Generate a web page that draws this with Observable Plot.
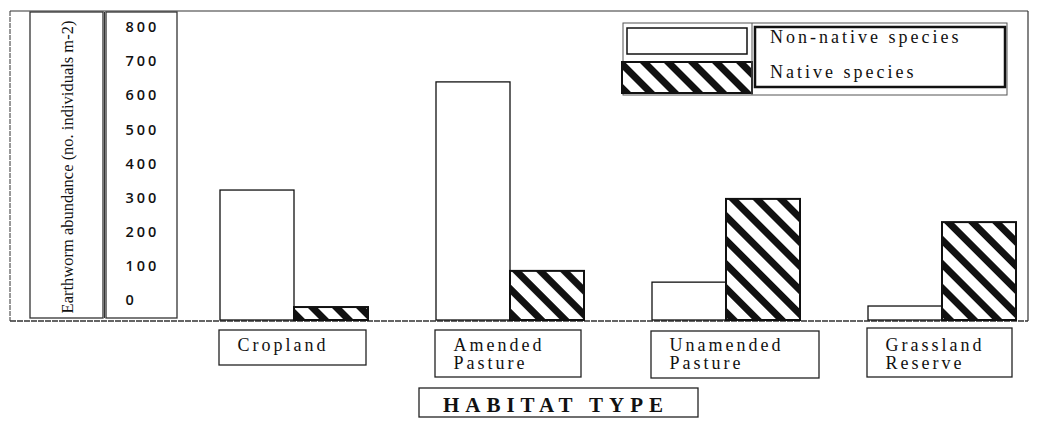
<!DOCTYPE html>
<html>
<head>
<meta charset="utf-8">
<script src="https://cdn.jsdelivr.net/npm/d3@7"></script>
<script src="https://cdn.jsdelivr.net/npm/@observablehq/plot@0.6"></script>
<style>
  body { margin: 0; background: #fff; }
  #chart svg { display: block; }
</style>
</head>
<body>
<div id="chart"></div>
<script>
// ---- data ----
const habitats = ["Cropland", "Amended Pasture", "Unamended Pasture", "Grassland Reserve"];
const habitatLabels = ["Cropland", "Amended\nPasture", "Unamended\nPasture", "Grassland\nReserve"];
const seriesNames = ["Non-native species", "Native species"];
const nonNative = [381, 698, 111, 41];
const native = [38, 144, 355, 287];
const yTicks = [0, 100, 200, 300, 400, 500, 600, 700, 800];
const yTitle = "Earthworm abundance (no. individuals m-2)";
const xTitle = "HABITAT TYPE";

const rows = habitats.flatMap((h, i) => [
  {habitat: h, series: seriesNames[0], value: nonNative[i]},
  {habitat: h, series: seriesNames[1], value: native[i]}
]);
const labelOf = new Map(habitats.map((h, i) => [h, habitatLabels[i]]));

// ---- layout ----
const W = 1041, H = 425;
const mL = 220, mR = 25, mT = 13, mB = 105;
const padInner = 68 / 216;
const half = 74; // half of the band: one bar per series
const serif = "'Liberation Serif', 'Times New Roman', serif";
const ink = "#111";

const chart = Plot.plot({
  width: W, height: H,
  marginLeft: mL, marginRight: mR, marginTop: mT, marginBottom: mB,
  style: {background: "transparent", color: ink},
  x: {domain: habitats, paddingInner: padInner, paddingOuter: 0, label: null, axis: null},
  y: {domain: [0, 900], label: null, axis: null},
  marks: [
    Plot.barY(rows.filter(d => d.series === seriesNames[0]), {
      x: "habitat", y: "value", insetRight: half,
      fill: "white", stroke: ink, strokeWidth: 1.3
    }),
    Plot.barY(rows.filter(d => d.series === seriesNames[1]), {
      x: "habitat", y: "value", insetLeft: half,
      fill: "url(#hatch)", stroke: ink, strokeWidth: 2
    }),
    Plot.axisY({
      ticks: yTicks, anchor: "left", label: null, tickSize: 0, tickPadding: 0,
      textAnchor: "start", dx: -95, dy: -20,
      fontSize: 14.5, fontFamily: "'Open Sans', sans-serif", fontWeight: 600
    }),
    Plot.axisX({
      anchor: "bottom", label: null, tickSize: 0, tickPadding: 18,
      tickFormat: d => labelOf.get(d), textAnchor: "start", lineAnchor: "top", dx: -57,
      fontSize: 18, fontFamily: serif
    }),
    Plot.text([yTitle], {
      frameAnchor: "left", textAnchor: "middle", lineAnchor: "middle", rotate: -90,
      dx: -153, dy: 0, fontSize: 16.5, fontFamily: serif, fill: ink
    })
  ]
});

document.getElementById("chart").appendChild(chart);

// ---- decorations ----
const svg = d3.select(chart);
const defs = svg.insert("defs", ":first-child");
const pat = defs.append("pattern").attr("id", "hatch")
  .attr("patternUnits", "userSpaceOnUse").attr("width", 17).attr("height", 17)
  .attr("patternTransform", "rotate(-45)");
pat.append("rect").attr("width", 17).attr("height", 17).attr("fill", "white");
pat.append("rect").attr("width", 7).attr("height", 17).attr("fill", ink);

svg.selectAll("[aria-label='x-axis tick label'] text").style("letter-spacing", "3px");
svg.selectAll("[aria-label='y-axis tick label'] text").style("letter-spacing", "3px");

const deco = svg.insert("g", "defs + *").attr("fill", "none").attr("stroke", "#333");
// outer frame
deco.append("line").attr("x1", 10).attr("x2", 1028).attr("y1", 11).attr("y2", 11).attr("stroke-width", 1.2);
deco.append("line").attr("x1", 1028).attr("x2", 1028).attr("y1", 11).attr("y2", 321).attr("stroke-width", 1.2);
deco.append("line").attr("x1", 10).attr("x2", 10).attr("y1", 11).attr("y2", 321).attr("stroke-width", 1).attr("stroke-dasharray", "5,1");
deco.append("line").attr("x1", 10).attr("x2", 1028).attr("y1", 321).attr("y2", 321).attr("stroke-width", 1.3).attr("stroke-dasharray", "6,1");
// title & tick boxes
deco.append("rect").attr("x", 30).attr("y", 12).attr("width", 73).attr("height", 306).attr("stroke-width", 1.3);
deco.append("rect").attr("x", 106).attr("y", 12).attr("width", 71).attr("height", 306).attr("stroke-width", 1.3);
deco.append("line").attr("x1", 104.5).attr("x2", 104.5).attr("y1", 12).attr("y2", 318).attr("stroke-width", 1);

// category label boxes (positioned from the x scale)
const xs = chart.scale("x");
const boxW = [147, 146, 168, 145];
const boxTop = [330, 330, 331, 328];
const boxBot = [365, 377, 378, 377];
habitats.forEach((h, i) => {
  const tx = xs.apply(h) + xs.bandwidth / 2 - 57;
  deco.append("rect").attr("x", tx - 18).attr("y", boxTop[i])
    .attr("width", boxW[i]).attr("height", boxBot[i] - boxTop[i])
    .attr("stroke", "#222").attr("stroke-width", 1.3);
});

// x title box
const g2 = svg.append("g").attr("text-anchor", "start");
g2.append("rect").attr("x", 419).attr("y", 388).attr("width", 279).attr("height", 29)
  .attr("fill", "none").attr("stroke", "#222").attr("stroke-width", 1.3);
g2.append("text").attr("x", 443).attr("y", 412).text(xTitle)
  .attr("text-anchor", "start")
  .attr("font-family", serif).attr("font-weight", "bold").attr("font-size", 21)
  .attr("fill", ink).attr("textLength", 220).attr("lengthAdjust", "spacing");

// legend
const lg = svg.append("g").attr("text-anchor", "start");
lg.append("rect").attr("x", 623).attr("y", 23).attr("width", 384).attr("height", 72)
  .attr("fill", "white").attr("stroke", "#555").attr("stroke-width", 1);
lg.append("rect").attr("x", 627).attr("y", 28).attr("width", 120).attr("height", 26)
  .attr("fill", "white").attr("stroke", ink).attr("stroke-width", 1.5);
lg.append("rect").attr("x", 622).attr("y", 62).attr("width", 130).attr("height", 31)
  .attr("fill", "url(#hatch)").attr("stroke", ink).attr("stroke-width", 2);
lg.append("line").attr("x1", 752).attr("x2", 752).attr("y1", 23).attr("y2", 95)
  .attr("stroke", "#555").attr("stroke-width", 1);
lg.append("rect").attr("x", 755).attr("y", 27).attr("width", 250).attr("height", 60)
  .attr("fill", "none").attr("stroke", ink).attr("stroke-width", 2.5);
[43, 78].forEach((yy, i) => {
  lg.append("text").attr("x", 770).attr("y", yy).text(seriesNames[i])
    .attr("text-anchor", "start")
    .attr("font-family", serif).attr("font-size", 18).attr("fill", ink)
    .style("letter-spacing", "3px");
});
</script>
</body>
</html>
